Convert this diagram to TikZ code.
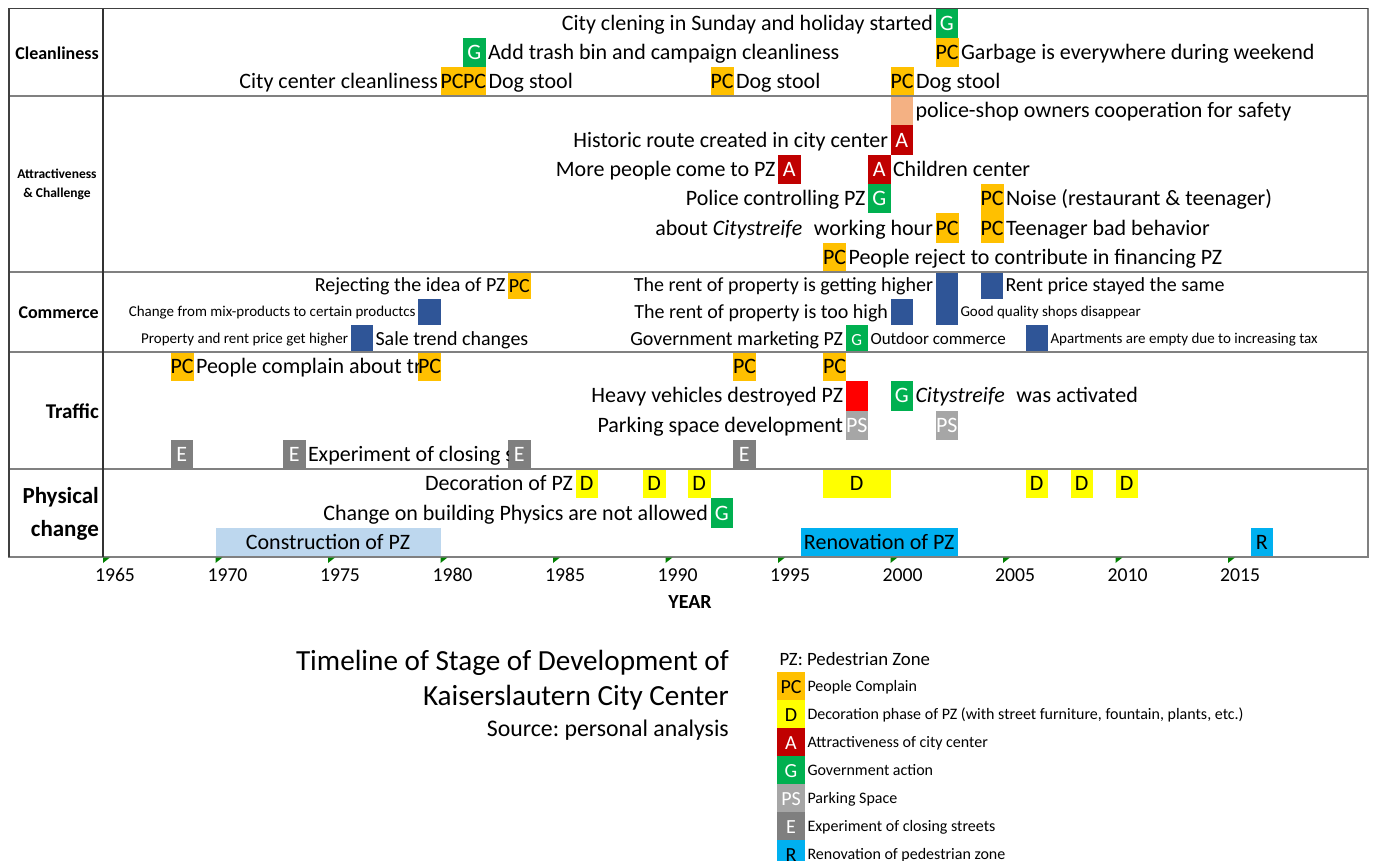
\documentclass[tikz,border=0pt]{standalone}
\usepackage{fontspec}
\setmainfont{Carlito}
\frenchspacing
\usetikzlibrary{calc}
\definecolor{cPC}{HTML}{FFC000}
\definecolor{cD}{HTML}{FFFF00}
\definecolor{cA}{HTML}{C00000}
\definecolor{cG}{HTML}{00B050}
\definecolor{cPS}{HTML}{A6A6A6}
\definecolor{cE}{HTML}{7F7F7F}
\definecolor{cR}{HTML}{00B0F0}
\definecolor{cCon}{HTML}{BDD7EE}
\definecolor{cSal}{HTML}{F4B183}
\definecolor{cRed}{HTML}{FF0000}
\definecolor{cBlue}{HTML}{2F5597}
\definecolor{cTick}{HTML}{008000}
\definecolor{cLine}{HTML}{808080}
\newcommand\fsz[1]{\fontsize{#1}{#1}\selectfont}
\newcommand\evt[7]{\node[evb,#6,minimum width={22.5*#3},minimum height={#5},anchor=north west] (#1) at ({103+22.5*(#2-1965)},#4) {#7};}
\tikzset{
 evb/.style={inner sep=0pt,outer sep=0pt,font=\fsz{22},text height=14.2pt,text depth=0pt},
 bPC/.style={fill=cPC,text=black},
 bD/.style={fill=cD,text=black},
 bA/.style={fill=cA,text=white},
 bG/.style={fill=cG,text=white},
 bPS/.style={fill=cPS,text=white},
 bE/.style={fill=cE,text=white},
 bR/.style={fill=cR,text=black},
 bCon/.style={fill=cCon,text=black},
 bSal/.style={fill=cSal},
 bRed/.style={fill=cRed},
 bBlue/.style={fill=cBlue},
 tx/.style={inner xsep=2.5pt,inner ysep=0pt,outer sep=0pt,font=\fsz{22},text height=14.2pt,text depth=0pt},
 txm/.style={tx,font=\fsz{20},text height=13pt},
 txo/.style={tx,font=\fsz{17},text height=11pt},
 txs/.style={tx,font=\fsz{15},text height=9.75pt},
 txl/.style={tx,font=\fsz{16},text height=10.3pt},
 lab/.style={inner sep=2pt,font=\bfseries\fsz{18}},
 frame/.style={draw=cLine,line width=1.3pt},
 yr/.style={font=\fsz{19.7},inner sep=0pt}
}
\begin{document}
\begin{tikzpicture}[x=1pt,y=-1pt]
\useasboundingbox[fill=white] (0,0) rectangle (1373,861);

% ---------- Cleanliness
\evt{c1}{2002}{1}{9}{29}{bG}{G}
\node[tx,anchor=east] (tc1) at (c1.west) {City clening in Sunday and holiday started};
\evt{c2}{1981}{1}{38}{29}{bG}{G}
\node[tx,anchor=west] (tc2) at (c2.east) {Add trash bin and campaign cleanliness};
\evt{c3}{2002}{1}{38}{29}{bPC}{PC}
\node[tx,anchor=west] (tc3) at (c3.east) {Garbage is everywhere during weekend};
\evt{c4}{1980}{1}{67}{29}{bPC}{PC}
\node[tx,anchor=east] (tc4) at (c4.west) {City center cleanliness};
\evt{c5}{1981}{1}{67}{29}{bPC}{PC}
\node[tx,anchor=west] (tc5) at (c5.east) {Dog stool};
\evt{c6}{1992}{1}{67}{29}{bPC}{PC}
\node[tx,anchor=west] (tc6) at (c6.east) {Dog stool};
\evt{c7}{2000}{1}{67}{29}{bPC}{PC}
\node[tx,anchor=west] (tc7) at (c7.east) {Dog stool};

% ---------- Attractiveness
\evt{a1}{2000}{1}{96}{29.33}{bSal}{}
\node[tx,anchor=west] (ta1) at (a1.east) {police-shop owners cooperation for safety};
\evt{a2}{2000}{1}{125.33}{29.33}{bA}{A}
\node[tx,anchor=east] (ta2) at (a2.west) {Historic route created in city center};
\evt{a3}{1995}{1}{154.67}{29.33}{bA}{A}
\node[tx,anchor=east] (ta3) at (a3.west) {More people come to PZ};
\evt{a4}{1999}{1}{154.67}{29.33}{bA}{A}
\node[tx,anchor=west] (ta4) at (a4.east) {Children center};
\evt{a5}{1999}{1}{184}{29.33}{bG}{G}
\node[tx,anchor=east] (ta5) at (a5.west) {Police controlling PZ};
\evt{a6}{2004}{1}{184}{29.33}{bPC}{PC}
\node[tx,anchor=west] (ta6) at (a6.east) {Noise (restaurant \& teenager)};
\evt{a7}{2002}{1}{213.33}{29.33}{bPC}{PC}
\node[tx,anchor=east] (ta7) at (a7.west) {about \textit{Citystreife}\hspace{0.3em} working hour};
\evt{a8}{2004}{1}{213.33}{29.33}{bPC}{PC}
\node[tx,anchor=west] (ta8) at (a8.east) {Teenager bad behavior};
\evt{a9}{1997}{1}{242.67}{29.33}{bPC}{PC}
\node[tx,anchor=west,fill=white] (ta9) at (a9.east) {People reject to contribute in financing PZ};

% ---------- Commerce
\evt{m1}{1983}{1}{272}{26.67}{bPC,font=\fsz{20}}{PC}
\node[txm,anchor=east] (tm1) at (m1.west) {Rejecting the idea of PZ};
\evt{m2}{1979}{1}{298.67}{26.67}{bBlue}{}
\node[txs,anchor=east] (tm2) at (m2.west) {Change from mix-products to certain productcs};
\evt{m3}{1976}{1}{325.33}{26.67}{bBlue}{}
\node[txs,anchor=east] (tm3) at (m3.west) {Property and rent price get higher};
\node[txm,anchor=west] (tm3b) at (m3.east) {Sale trend changes};
\evt{m4}{2002}{1}{272}{53.33}{bBlue}{}
\evt{m5}{2004}{1}{272}{26.67}{bBlue}{}
\node[txm,anchor=west] (tm5) at (m5.east) {Rent price stayed the same};
\node[txm,anchor=east] (tm4) at (m4.west |- m5.west) {The rent of property is getting higher};
\evt{m6}{2000}{1}{298.67}{26.67}{bBlue}{}
\node[txm,anchor=east] (tm6) at (m6.west) {The rent of property is too high};
\node[txs,anchor=west] (tm4b) at (m4.east |- m6.east) {Good quality shops disappear};
\evt{m7}{1998}{1}{325.33}{26.67}{bG,font=\fsz{17}}{G}
\node[txm,anchor=east] (tm7) at (m7.west) {Government marketing PZ};
\node[txo,anchor=west] (tm7b) at (m7.east) {Outdoor commerce};
\evt{m8}{2006}{1}{325.33}{26.67}{bBlue}{}
\node[txs,anchor=west] (tm8) at (m8.east) {Apartments are empty due to increasing tax};

% ---------- Traffic
\evt{r1}{1968}{1}{352}{29.25}{bPC}{PC}
\evt{r2}{1979}{1}{352}{29.25}{bPC}{PC}
\begin{scope}
\clip (r1.north east) rectangle (r2.south west);
\node[tx,anchor=west] (tr1) at (r1.east) {People complain about traffic};
\end{scope}
\evt{r3}{1993}{1}{352}{29.25}{bPC}{PC}
\evt{r4}{1997}{1}{352}{29.25}{bPC}{PC}
\evt{r5}{1998}{1}{381.25}{29.25}{bRed}{}
\node[tx,anchor=east] (tr5) at (r5.west) {Heavy vehicles destroyed PZ};
\evt{r6}{2000}{1}{381.25}{29.25}{bG}{G}
\node[tx,anchor=west] (tr6) at (r6.east) {\textit{Citystreife}\hspace{0.3em} was activated};
\evt{r7}{1998}{1}{410.5}{29.25}{bPS}{PS}
\node[tx,anchor=east] (tr7) at (r7.west) {Parking space development};
\evt{r8}{2002}{1}{410.5}{29.25}{bPS}{PS}
\evt{r9}{1968}{1}{439.75}{29.25}{bE}{E}
\evt{r10}{1973}{1}{439.75}{29.25}{bE}{E}
\evt{r11}{1983}{1}{439.75}{29.25}{bE}{E}
\begin{scope}
\clip (r10.north east) rectangle (r11.south west);
\node[tx,anchor=west] (tr10) at (r10.east) {Experiment of closing streets};
\end{scope}
\evt{r12}{1993}{1}{439.75}{29.25}{bE}{E}

% ---------- Physical change
\evt{p1}{1986}{1}{469}{29.33}{bD}{D}
\node[tx,anchor=east] (tp1) at (p1.west) {Decoration of PZ};
\evt{p2}{1989}{1}{469}{29.33}{bD}{D}
\evt{p3}{1991}{1}{469}{29.33}{bD}{D}
\evt{p4}{1997}{3}{469}{29.33}{bD}{D}
\evt{p5}{2006}{1}{469}{29.33}{bD}{D}
\evt{p6}{2008}{1}{469}{29.33}{bD}{D}
\evt{p7}{2010}{1}{469}{29.33}{bD}{D}
\evt{p8}{1992}{1}{498.33}{29.33}{bG}{G}
\node[tx,anchor=east] (tp8) at (p8.west) {Change on building Physics are not allowed};
\evt{p9}{1970}{10}{527.67}{29.33}{bCon}{Construction of PZ}
\evt{p10}{1996}{7}{527.67}{29.33}{bR}{Renovation of PZ}
\evt{p11}{2016}{1}{527.67}{29.33}{bR}{R}

% ---------- frame
\draw[frame] (9,8.5) rectangle (1368,557);
\foreach \yy in {96,272,352,469} \draw[frame] (9,\yy) -- (1368,\yy);
\draw[line width=1.1pt,black!80] (103,8.5) -- (103,557);
\draw[line width=1.3pt,black!75] (9,8.5) -- (1368,8.5);
\draw[line width=1.3pt,black!75] (9,8.5) -- (9,557);

% row labels
\node[lab,anchor=east] (lclean) at (101,53) {Cleanliness};
\node[font=\bfseries\fontsize{13.5}{19}\selectfont,align=center,inner sep=0pt] (lattr) at (57,184) {Attractiveness\\\& Challenge};
\node[lab,anchor=east] (lcom) at (101,313) {Commerce};
\node[lab,anchor=east,font=\bfseries\fsz{21}] (ltraf) at (101,411) {Traffic};
\node[lab,anchor=east,align=right,font=\bfseries\fontsize{23}{33}\selectfont] (lphys) at (101,514) {Physical\\change};

% axis
\foreach \i [evaluate=\i as \yv using int(1965+5*\i)] in {0,...,10}{
  \fill[cTick] ({103+112.5*\i},557.5) -- ++(7,0) -- ++(-7,5.5) -- cycle;
  \node[yr] (y\i) at ({115+112.5*\i},575) {\yv};
}
\node[font=\bfseries\fsz{20},inner sep=0pt] (year) at (690,602) {YEAR};

% title
\node[anchor=east,font=\fsz{29.2},inner sep=0pt] (t1) at (729,663) {Timeline of Stage of Development of};
\node[anchor=east,font=\fsz{29.2},inner sep=0pt] (t2) at (729,698) {Kaiserslautern City Center};
\node[anchor=east,font=\fsz{23.8},inner sep=0pt] (t3) at (729,730) {Source: personal analysis};

% legend
\node[tx,anchor=west,font=\fsz{18.8},text height=12pt] (lgt) at (777,659) {PZ: Pedestrian Zone};
\node[evb,bPC,font=\fsz{20},minimum width=28,minimum height=28,anchor=north west] (l1) at (777,672) {PC};
\node[txl,anchor=west] (lt1) at (l1.east) {People Complain};
\node[evb,bD,font=\fsz{20},minimum width=28,minimum height=28,anchor=north] (l2) at (l1.south) {D};
\node[txl,anchor=west] (lt2) at (l2.east) {Decoration phase of PZ (with street furniture, fountain, plants, etc.)};
\node[evb,bA,font=\fsz{20},minimum width=28,minimum height=28,anchor=north] (l3) at (l2.south) {A};
\node[txl,anchor=west] (lt3) at (l3.east) {Attractiveness of city center};
\node[evb,bG,font=\fsz{20},minimum width=28,minimum height=28,anchor=north] (l4) at (l3.south) {G};
\node[txl,anchor=west] (lt4) at (l4.east) {Government action};
\node[evb,bPS,font=\fsz{20},minimum width=28,minimum height=28,anchor=north] (l5) at (l4.south) {PS};
\node[txl,anchor=west] (lt5) at (l5.east) {Parking Space};
\node[evb,bE,font=\fsz{20},minimum width=28,minimum height=28,anchor=north] (l6) at (l5.south) {E};
\node[txl,anchor=west] (lt6) at (l6.east) {Experiment of closing streets};
\node[evb,bR,font=\fsz{20},minimum width=28,minimum height=28,anchor=north] (l7) at (l6.south) {R};
\node[txl,anchor=west] (lt7) at (l7.east) {Renovation of pedestrian zone};
\end{tikzpicture}
\end{document}
